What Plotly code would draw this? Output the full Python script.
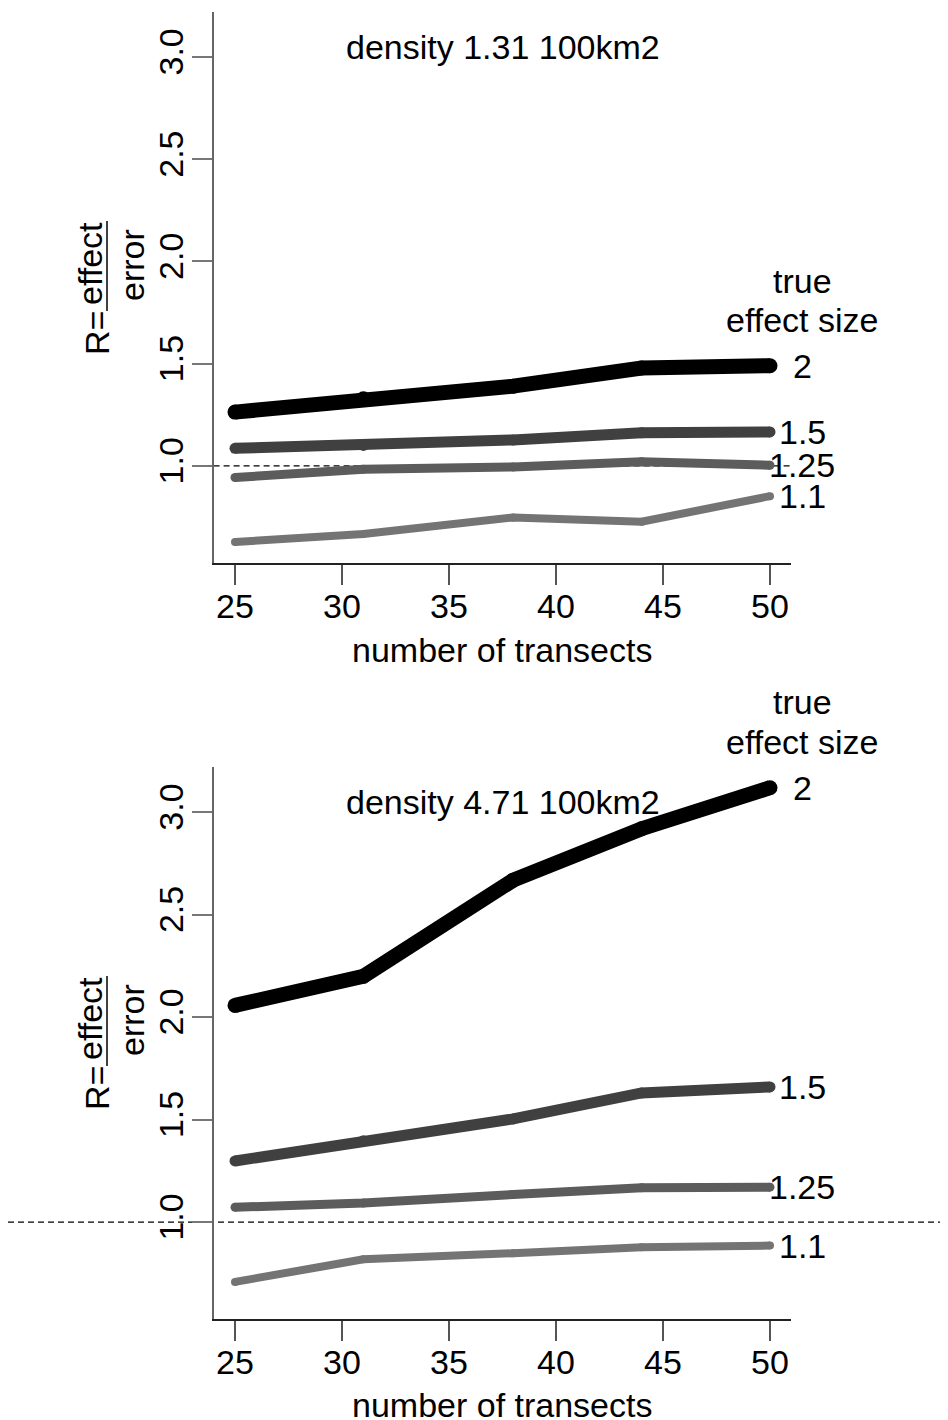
import plotly.graph_objects as go

# ---------------- data ----------------
transects = [25, 31, 38, 44, 50]
effect_labels = ["2", "1.5", "1.25", "1.1"]
line_colors = ["#000000", "#404040", "#5c5c5c", "#747474"]
line_widths = [15, 11, 9, 8]

# panel 1: density 1.31 per 100km2
low_es2 = [1.263, 1.328, 1.390, 1.479, 1.490]
low_es15 = [1.086, 1.100, 1.127, 1.162, 1.166]
low_es125 = [0.943, 0.984, 0.995, 1.020, 1.003]
low_es11 = [0.628, 0.667, 0.748, 0.727, 0.852]

# panel 2: density 4.71 per 100km2
high_es2 = [2.057, 2.199, 2.668, 2.919, 3.119]
high_es15 = [1.298, 1.397, 1.503, 1.630, 1.659]
high_es125 = [1.072, 1.093, 1.134, 1.167, 1.170]
high_es11 = [0.708, 0.818, 0.848, 0.877, 0.885]

panel_titles = ["density 1.31 100km2", "density 4.71 100km2"]
y_ticks = [1.0, 1.5, 2.0, 2.5, 3.0]
x_ticks = [25, 30, 35, 40, 45, 50]

panels = [
    [low_es2, low_es15, low_es125, low_es11],
    [high_es2, high_es15, high_es125, high_es11],
]

# ---------------- layout helpers ----------------
PAGE_W, PAGE_H = 948, 1420
BODY = 8  # default page margin of the html body
W, H = PAGE_W - BODY, PAGE_H - BODY
FONT = "Liberation Sans, Arial, Helvetica, sans-serif"
FS = 34
X_RANGE = [24, 51]
Y_RANGE = [0.525, 3.22]


def px(x):
    return (x - BODY) / W


def py(y):
    return 1 - (y - BODY) / H


def xdom(v):
    return (v - X_RANGE[0]) / (X_RANGE[1] - X_RANGE[0])


def ydom(v):
    return (v - Y_RANGE[0]) / (Y_RANGE[1] - Y_RANGE[0])


X_DOM = [px(213.6), px(791.4)]
Y_DOMS = [[py(563), py(12)], [py(1319.4), py(767)]]
PANEL_SHIFT = [0, 755]

fig = go.Figure()
annotations = []
shapes = []


def txt(**kw):
    d = dict(showarrow=False, xanchor="center", yanchor="middle",
             font=dict(family=FONT, size=FS, color="#000"))
    d.update(kw)
    return d


for p, series in enumerate(panels):
    xa = "x" if p == 0 else "x2"
    ya = "y" if p == 0 else "y2"
    for vals, lab, col, lw in zip(series, effect_labels, line_colors, line_widths):
        fig.add_trace(go.Scatter(
            x=transects, y=vals, mode="lines+markers",
            line=dict(color=col, width=lw),
            marker=dict(color=col, size=lw, line=dict(width=0)),
            xaxis=xa, yaxis=ya, showlegend=False, hoverinfo="skip",
        ))
        annotations.append(txt(x=xdom(51.5), y=ydom(vals[-1]), xref=xa + " domain",
                               yref=ya + " domain", text=lab))
    top_val = series[0][-1]
    annotations.append(txt(x=xdom(51.5), y=ydom(top_val + 0.416), xref=xa + " domain",
                           yref=ya + " domain", text="true"))
    annotations.append(txt(x=xdom(51.5), y=ydom(top_val + 0.225), xref=xa + " domain",
                           yref=ya + " domain", text="effect size"))
    annotations.append(txt(x=37.5, y=3.05, xref=xa, yref=ya, text=panel_titles[p]))
    s = PANEL_SHIFT[p]
    # x axis title
    annotations.append(txt(x=px(502), y=py(650 + s), xref="paper", yref="paper",
                           text="number of transects"))
    # y axis title  R = effect / error
    annotations.append(txt(x=px(97), y=py(333 + s), xref="paper", yref="paper",
                           text="R=", textangle=-90))
    annotations.append(txt(x=px(90), y=py(264 + s), xref="paper", yref="paper",
                           text="effect", textangle=-90))
    annotations.append(txt(x=px(132), y=py(265 + s), xref="paper", yref="paper",
                           text="error", textangle=-90))
    shapes.append(dict(
        type="line", xref="paper", yref="paper",
        x0=px(107), x1=px(107), y0=py(221 + s), y1=py(311 + s),
        line=dict(color="#000", width=1.5),
    ))

# reference lines at R = 1
shapes.append(dict(type="line", xref="x domain", yref="y", x0=0, x1=1, y0=1, y1=1,
                   line=dict(color="#000", width=1.2, dash="6px,4px"), layer="below"))
shapes.append(dict(type="line", xref="paper", yref="y2", x0=0, x1=1, y0=1, y1=1,
                   line=dict(color="#000", width=1.2, dash="6px,4px"), layer="below"))

xaxis_style = dict(
    range=X_RANGE, tickvals=x_ticks, ticks="outside", ticklen=20, tickwidth=1.5,
    tickcolor="#555", showline=True, linecolor="#222", linewidth=1.5,
    showgrid=False, zeroline=False, ticklabelstandoff=-8,
    tickfont=dict(family=FONT, size=FS, color="#000"), domain=X_DOM,
)
yaxis_style = dict(
    range=Y_RANGE, tickvals=y_ticks, tickformat=".1f", ticks="outside",
    ticklen=20, tickwidth=1.5, tickcolor="#777", showline=True, linecolor="#666",
    linewidth=2, showgrid=False, zeroline=False, tickangle=-90, ticklabelstandoff=-5,
    tickfont=dict(family=FONT, size=FS, color="#000"),
)

fig.update_layout(
    width=W, height=H, margin=dict(l=0, r=0, t=0, b=0),
    paper_bgcolor="white", plot_bgcolor="white",
    xaxis=dict(**xaxis_style, anchor="y"),
    xaxis2=dict(**xaxis_style, anchor="y2"),
    yaxis=dict(**yaxis_style, domain=Y_DOMS[0], anchor="x"),
    yaxis2=dict(**yaxis_style, domain=Y_DOMS[1], anchor="x2"),
    annotations=annotations, shapes=shapes,
)

fig.write_html("out.html")
